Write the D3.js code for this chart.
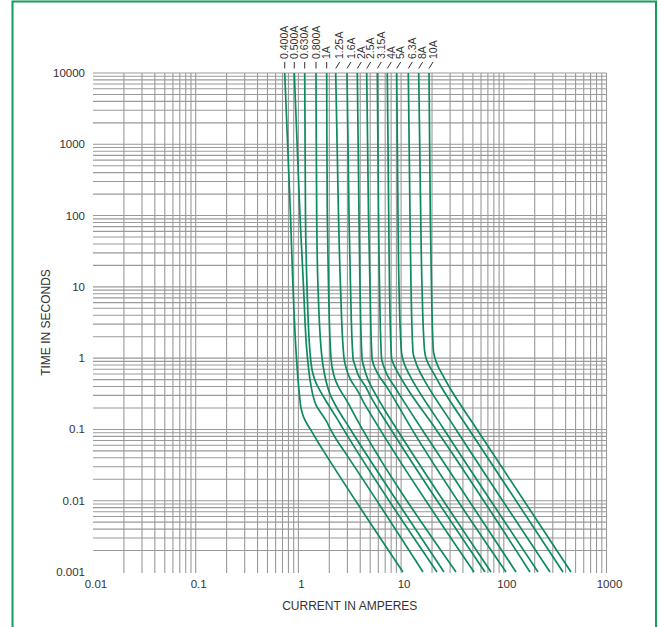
<!DOCTYPE html>
<html lang="en">
<head>
    <meta charset="UTF-8">
    <title>Time-Current Characteristic Curves</title>
    <script src="https://d3js.org/d3.v7.min.js"></script>
    <style>
        body { margin: 0; background: #fff; }
        text { font-family: "Liberation Sans", Arial, sans-serif; fill: #333; }
    </style>
</head>
<body>
    <svg width="663" height="627"></svg>

    <script>
        // Fuse ratings, in drawing order (left to right)
        const ratings = ["0.400A", "0.500A", "0.630A", "0.800A", "1A", "1.25A", "1.6A", "2A",
                         "2.5A", "3.15A", "4A", "5A", "6.3A", "8A", "10A"];

        // Axis tick labels
        const xTickValues = [0.01, 0.1, 1, 10, 100, 1000];
        const xTickLabels = ["0.01", "0.1", "1", "10", "100", "1000"];
        const yTickValues = [0.001, 0.01, 0.1, 1, 10, 100, 1000, 10000];
        const yTickLabels = ["0.001", "0.01", "0.1", "1", "10", "100", "1000", "10000"];

        // Curve points: time (s) and current (A)
        const t0400 = [10000, 100, 10, 1, 0.3, 0.2, 0.15, 0.12, 0.1, 0.07, 0.05, 0.001];
        const i0400 = [0.736, 0.838, 0.886, 0.958, 1.025, 1.060, 1.121, 1.212, 1.311, 1.517, 1.755, 10.43];

        const t0500 = [10000, 100, 10, 1, 0.5, 0.3, 0.22, 0.17, 0.13, 0.1, 0.07, 0.05, 0.001];
        const i0500 = [0.912, 1.036, 1.121, 1.226, 1.297, 1.387, 1.484, 1.660, 1.878, 2.054, 2.376, 2.780, 16.34];

        const t0630 = [10000, 100, 10, 1, 0.6, 0.45, 0.35, 0.25, 0.15, 0.1, 0.001];
        const i0630 = [1.152, 1.172, 1.213, 1.312, 1.387, 1.484, 1.623, 1.857, 2.323, 2.749, 22.37];

        const t0800 = [10000, 100, 10, 1, 0.6, 0.4, 0.3, 0.2, 0.1, 0.001];
        const i0800 = [1.484, 1.507, 1.552, 1.698, 1.795, 1.920, 2.054, 2.376, 3.216, 26.17];

        const t1000 = [10000, 100, 10, 1, 0.6, 0.45, 0.35, 0.25, 0.15, 0.1, 0.001];
        const i1000 = [1.886, 1.912, 1.964, 2.077, 2.197, 2.350, 2.570, 2.973, 3.597, 4.209, 34.24];

        const t1250 = [10000, 100, 10, 1, 0.7, 0.5, 0.35, 0.25, 0.1, 0.001];
        const i1250 = [2.308, 2.457, 2.570, 2.780, 2.940, 3.216, 3.763, 4.256, 6.231, 51.27];

        const t1600 = [10000, 100, 10, 1, 0.75, 0.55, 0.4, 0.3, 0.1, 0.001];
        const i1600 = [2.973, 3.110, 3.216, 3.401, 3.597, 3.891, 4.502, 4.980, 7.974, 65.61];

        const t2000 = [10000, 100, 10, 1, 0.7, 0.5, 0.35, 0.2, 0.1, 0.001];
        const i2000 = [3.746, 3.891, 3.979, 4.162, 4.402, 4.761, 5.387, 6.740, 9.121, 75.05];

        const t2500 = [10000, 100, 10, 1, 0.75, 0.55, 0.4, 0.3, 0.1, 0.001];
        const i2500 = [4.624, 4.814, 4.980, 5.208, 5.509, 6.162, 7.209, 8.155, 12.77, 105.1];

        const t3150 = [10000, 100, 10, 1, 0.75, 0.55, 0.4, 0.3, 0.1, 0.001];
        const i3150 = [5.865, 6.024, 6.162, 6.444, 6.816, 7.455, 8.624, 9.756, 15.98, 131.5];

        const t4000 = [10000, 100, 10, 1, 0.8, 0.6, 0.4, 0.1, 0.001];
        const i4000 = [7.339, 7.573, 7.710, 8.064, 8.529, 9.434, 11.16, 21.87, 179.9];

        const t5000 = [10000, 100, 10, 1.2, 0.9, 0.7, 0.5, 0.1, 0.001];
        const i5000 = [9.060, 9.329, 9.540, 10.09, 10.55, 11.29, 12.77, 26.17, 215.3];

        const t6300 = [10000, 100, 10, 1.2, 0.9, 0.7, 0.5, 0.1, 0.001];
        const i6300 = [11.75, 12.21, 12.49, 13.06, 13.81, 14.77, 16.71, 34.24, 281.7];

        const t8000 = [10000, 100, 10, 1.3, 1, 0.8, 0.6, 0.4, 0.1, 0.001];
        const i8000 = [14.84, 15.52, 15.98, 16.90, 17.48, 18.69, 20.91, 24.46, 45.83, 377.1];

        const t10000 = [10000, 100, 10, 1.3, 1, 0.8, 0.6, 0.4, 0.1, 0.001];
        const i10000 = [18.69, 19.25, 19.77, 20.58, 21.38, 22.62, 25.02, 29.27, 54.83, 451.2];

        const times = [t0400, t0500, t0630, t0800, t1000, t1250, t1600, t2000,
                       t2500, t3150, t4000, t5000, t6300, t8000, t10000];
        const currents = [i0400, i0500, i0630, i0800, i1000, i1250, i1600, i2000,
                          i2500, i3150, i4000, i5000, i6300, i8000, i10000];

        const series = ratings.map((r, k) => ({
            label: r,
            points: times[k].map((t, j) => ({t: t, i: currents[k][j]}))
        }));

        const width = 663;
        const height = 627;
        const plot = {left: 93, right: 606.5, top: 73, bottom: 572};

        const svg = d3.select("svg")
            .attr("width", width)
            .attr("height", height);

        // Log scales for current and time
        const x = d3.scaleLog()
            .domain([0.01, 1000])
            .range([plot.left, plot.right]);

        const y = d3.scaleLog()
            .domain([0.001, 10000])
            .range([plot.bottom, plot.top]);

        // Green frame around the figure
        svg.append("rect")
            .attr("x", 12.5)
            .attr("y", 1.5)
            .attr("width", 643.5)
            .attr("height", 660)
            .attr("fill", "none")
            .attr("stroke", "#0f9d58")
            .attr("stroke-width", 2);

        // Grid lines (2..10 in every decade)
        const grid = svg.append("g");

        grid.selectAll("line.v")
            .data(x.ticks().filter(v => v > 0.0100001))
            .enter()
            .append("line")
            .attr("class", "v")
            .attr("x1", d => x(d))
            .attr("x2", d => x(d))
            .attr("y1", plot.top)
            .attr("y2", plot.bottom + 1)
            .attr("stroke", "#9a9a9a")
            .attr("stroke-width", 1.1);

        grid.selectAll("line.h")
            .data(y.ticks().filter(v => v > 0.0010001))
            .enter()
            .append("line")
            .attr("class", "h")
            .attr("x1", plot.left)
            .attr("x2", plot.right)
            .attr("y1", d => y(d))
            .attr("y2", d => y(d))
            .attr("stroke", "#9a9a9a")
            .attr("stroke-width", 1.1);

        // Tick labels
        svg.selectAll("text.xlab")
            .data(xTickValues)
            .enter()
            .append("text")
            .attr("class", "xlab")
            .attr("x", d => x(d) + 3)
            .attr("y", 588)
            .attr("text-anchor", "middle")
            .style("font-size", "11.5px")
            .text((d, k) => xTickLabels[k]);

        svg.selectAll("text.ylab")
            .data(yTickValues)
            .enter()
            .append("text")
            .attr("class", "ylab")
            .attr("x", 85)
            .attr("y", d => y(d))
            .attr("dy", "0.35em")
            .attr("text-anchor", "end")
            .style("font-size", "11.5px")
            .text((d, k) => yTickLabels[k]);

        // Axis titles
        svg.append("text")
            .attr("x", (plot.left + plot.right) / 2)
            .attr("y", 610)
            .attr("text-anchor", "middle")
            .style("font-size", "12px")
            .text("CURRENT IN AMPERES");

        svg.append("text")
            .attr("transform", `translate(46,${(plot.top + plot.bottom) / 2}) rotate(-90)`)
            .attr("dy", "0.35em")
            .attr("text-anchor", "middle")
            .style("font-size", "12px")
            .text("TIME IN SECONDS");

        // Curves
        const line = d3.line()
            .x(d => x(d.i))
            .y(d => y(d.t))
            .curve(d3.curveMonotoneY);

        svg.append("g")
            .selectAll("path")
            .data(series)
            .enter()
            .append("path")
            .attr("d", d => line(d.points))
            .attr("fill", "none")
            .attr("stroke", "#0e8a5f")
            .attr("stroke-width", 1.7);

        // Rating labels with short leader lines above the grid
        const labels = svg.append("g");
        series.forEach((s, k) => {
            const cx = x(s.points[0].i);
            const lx = k < 5 ? cx : cx + 4;
            labels.append("line")
                .attr("x1", cx)
                .attr("y1", 68.5)
                .attr("x2", lx)
                .attr("y2", 62)
                .attr("stroke", "#333")
                .attr("stroke-width", 1);
            labels.append("text")
                .attr("transform", `translate(${lx},59) rotate(-90)`)
                .attr("dy", "0.35em")
                .style("font-size", "10.5px")
                .text(s.label);
        });
    </script>
</body>
</html>
